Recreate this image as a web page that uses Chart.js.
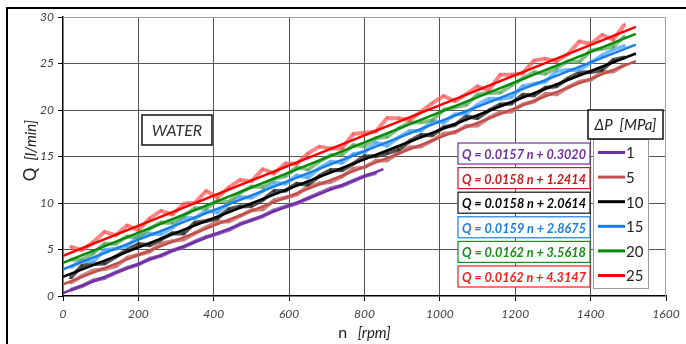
<!DOCTYPE html>
<html>
<head>
<meta charset="utf-8">
<script src="https://cdn.jsdelivr.net/npm/chart.js@4"></script>
<style>
  html, body { margin: 0; padding: 0; background: #fff; overflow: hidden; }
  canvas { display: block; }
</style>
</head>
<body>
<canvas id="flowChart" width="686" height="344"></canvas>
<script>
// pump speed samples [rpm]
const rpm = [20, 50, 80, 110, 140, 170, 200, 230, 260, 290, 320, 350, 380, 410, 440, 470, 500,
  530, 560, 590, 620, 650, 680, 710, 740, 770, 800, 830, 860, 890, 920, 950, 980, 1010, 1040,
  1070, 1100, 1130, 1160, 1190, 1220, 1250, 1280, 1310, 1340, 1370, 1400, 1430, 1460, 1490];

// measured flow [l/min] for each pressure drop
const q1 = [0.66, 1.06, 1.67, 1.93, 2.51, 3.03, 3.39, 4.00, 4.31, 4.89, 5.27, 5.85, 6.36, 6.71,
  7.10, 7.75, 8.16, 8.57, 9.21, 9.60, 9.95, 10.50, 11.04, 11.56, 11.85, 12.37, 12.90, 13.21];
const q5 = [1.41, 2.15, 2.73, 2.90, 3.18, 4.11, 4.43, 4.76, 5.65, 5.90, 6.08, 6.74, 7.40, 7.99,
  8.01, 8.61, 9.23, 9.32, 10.30, 10.56, 10.90, 11.75, 12.09, 12.25, 12.84, 13.69, 13.83, 14.53,
  14.58, 15.36, 15.98, 16.08, 16.71, 17.45, 17.57, 18.29, 18.34, 19.15, 19.75, 19.84, 20.61,
  20.91, 21.74, 21.70, 22.43, 23.04, 23.24, 24.06, 24.13, 24.86];
const q10 = [1.95, 3.25, 3.43, 3.50, 4.23, 4.95, 5.58, 5.46, 6.09, 6.76, 6.72, 7.87, 8.07, 8.36,
  9.33, 9.63, 9.68, 10.32, 11.29, 11.32, 12.08, 11.99, 12.89, 13.54, 13.53, 14.21, 15.04, 15.04,
  15.35, 15.74, 16.66, 17.31, 17.29, 18.14, 18.39, 19.33, 19.12, 19.94, 20.59, 20.70, 21.64,
  21.57, 22.39, 22.56, 23.39, 24.01, 24.08, 24.30, 25.37, 25.64];
const q15 = [3.09, 3.80, 3.66, 4.96, 5.09, 5.35, 6.43, 6.70, 6.66, 7.34, 8.42, 8.36, 9.17, 8.98,
  9.96, 10.65, 10.56, 11.28, 12.18, 12.08, 12.95, 12.74, 13.75, 14.45, 14.32, 15.25, 15.47, 16.50,
  16.16, 17.04, 17.74, 17.78, 18.81, 18.64, 19.52, 19.64, 20.55, 21.20, 21.19, 21.36, 22.56,
  22.79, 23.03, 24.18, 24.29, 24.29, 25.08, 25.85, 26.51, 26.90];
const q20 = [3.89, 3.91, 4.58, 5.61, 5.61, 6.41, 6.28, 7.23, 7.91, 7.87, 8.58, 9.45, 9.42, 10.25,
  10.12, 11.10, 11.77, 11.71, 12.61, 12.86, 13.86, 13.59, 14.45, 15.13, 15.22, 16.22, 16.11,
  16.97, 17.12, 18.01, 18.65, 18.69, 18.89, 20.03, 20.30, 20.57, 21.67, 21.83, 21.87, 22.65,
  23.40, 24.06, 23.89, 24.54, 25.25, 25.17, 26.40, 26.58, 26.86, 27.90];
const q25 = [5.30, 4.94, 5.78, 6.90, 6.53, 7.59, 7.09, 8.35, 9.15, 8.75, 9.91, 10.02, 11.30, 10.60,
  11.68, 12.48, 12.34, 13.63, 13.17, 14.25, 14.21, 15.33, 16.06, 15.85, 15.87, 17.41, 17.55,
  17.68, 19.15, 19.11, 18.89, 19.84, 20.74, 21.51, 20.94, 21.71, 22.55, 22.12, 23.80, 23.79,
  23.96, 25.33, 25.50, 25.25, 26.01, 27.38, 27.10, 28.07, 27.57, 29.20];

// linear fits Q = a*n + b and the speed where each fit line stops
const pressures = ['1', '5', '10', '15', '20', '25'];
const slopes = [0.0157, 0.0158, 0.0158, 0.0159, 0.0162, 0.0162];
const intercepts = [0.3020, 1.2414, 2.0614, 2.8675, 3.5618, 4.3147];
const fitEnds = [850, 1520, 1520, 1520, 1520, 1520];

const xTicks = [0, 200, 400, 600, 800, 1000, 1200, 1400, 1600];
const yTicks = [0, 5, 10, 15, 20, 25, 30];

const measured = [q1, q5, q10, q15, q20, q25];
const lineColors = ['#7030a0', '#c0504d', '#000000', '#1a7ee6', '#078a07', '#ff0000'];
const dotColors = ['rgba(128,70,180,0.8)', 'rgba(200,112,106,0.85)', 'rgba(40,40,40,0.8)',
  'rgba(70,165,255,0.75)', 'rgba(80,165,80,0.7)', 'rgba(255,80,80,0.7)'];
const eqColors = ['#7030a0', '#d01818', '#000000', '#1a7ee6', '#1c8a1c', '#ff1a1a'];

const datasets = [];
pressures.forEach((p, i) => {
  datasets.push({
    label: p + ' MPa data',
    data: measured[i].map((q, k) => ({ x: rpm[k], y: q })),
    showLine: true,
    borderColor: dotColors[i],
    borderWidth: 4,
    borderJoinStyle: 'round',
    pointStyle: 'triangle',
    pointRadius: 2.2,
    pointBackgroundColor: dotColors[i],
    pointBorderWidth: 0,
    order: 10 - i
  });
});
pressures.forEach((p, i) => {
  datasets.push({
    label: p + ' MPa fit',
    data: [0, fitEnds[i]].map(n => ({ x: n, y: slopes[i] * n + intercepts[i] })),
    showLine: true,
    borderColor: lineColors[i],
    borderWidth: 2.5,
    pointRadius: 0,
    order: 0
  });
});

const FONT = 'Lato, "Open Sans", sans-serif';

const decor = {
  id: 'decor',
  beforeDraw(chart) {
    const c = chart.ctx;
    c.save();
    c.fillStyle = '#fff';
    c.fillRect(0, 0, chart.width, chart.height);
    // outer frame
    c.strokeStyle = '#000';
    c.lineWidth = 2;
    c.beginPath();
    c.moveTo(7, chart.height + 2);
    c.lineTo(7, 8);
    c.lineTo(chart.width + 2, 8);
    c.stroke();
    c.restore();
  },
  beforeDatasetsDraw(chart) {
    const a = chart.chartArea, c = chart.ctx;
    c.save();
    c.strokeStyle = '#a0a0a0';
    c.lineWidth = 1;
    c.beginPath();
    c.moveTo(a.left, a.top + 0.5);
    c.lineTo(a.right - 0.5, a.top + 0.5);
    c.lineTo(a.right - 0.5, a.bottom);
    c.stroke();
    c.restore();
  },
  afterDraw(chart) {
    const c = chart.ctx, a = chart.chartArea;
    c.save();

    // axis titles
    c.fillStyle = '#222';
    c.textBaseline = 'alphabetic';
    c.font = '16px ' + FONT;
    const nW = c.measureText('n').width;
    c.font = 'italic 15px ' + FONT;
    const rW = c.measureText('   [rpm]').width;
    let x0 = (a.left + a.right) / 2 - (nW + rW) / 2;
    c.font = '16px ' + FONT;
    c.fillText('n', x0, 338);
    c.font = 'italic 15px ' + FONT;
    c.fillText('   [rpm]', x0 + nW, 338);

    c.translate(36, (a.top + a.bottom) / 2 - 6);
    c.rotate(-Math.PI / 2);
    c.font = '17px ' + FONT;
    const qW = c.measureText('Q').width;
    c.font = 'italic 15px ' + FONT;
    const uW = c.measureText('  [l/min]').width;
    x0 = -(qW + uW) / 2;
    c.font = '17px ' + FONT;
    c.fillText('Q', x0, 0);
    c.font = 'italic 15px ' + FONT;
    c.fillText('  [l/min]', x0 + qW, 0);
    c.setTransform(1, 0, 0, 1, 0, 0);

    // fluid label
    c.fillStyle = '#fff';
    c.fillRect(142, 115, 70, 30);
    c.strokeStyle = '#111';
    c.lineWidth = 1.5;
    c.strokeRect(142, 115, 70, 30);
    c.fillStyle = '#333';
    c.font = 'italic 16px ' + FONT;
    c.textAlign = 'center';
    c.textBaseline = 'middle';
    c.fillText('WATER', 177, 131);

    // fit equations
    const rowY = i => 153.5 + i * 24.6;
    c.font = 'italic bold 14px ' + FONT;
    pressures.forEach((p, i) => {
      const y = rowY(i);
      c.fillStyle = '#fff';
      c.fillRect(458, y - 10.5, 132, 21);
      c.strokeStyle = eqColors[i] === '#000000' ? '#111' : eqColors[i];
      c.lineWidth = 1.2;
      c.strokeRect(458, y - 10.5, 132, 21);
      c.fillStyle = eqColors[i];
      const txt = 'Q = ' + slopes[i].toFixed(4) + ' n + ' + intercepts[i].toFixed(4);
      c.fillText(txt, 524, y + 1, 124);
    });

    // legend
    c.fillStyle = '#fff';
    c.fillRect(593, 139, 55, 149);
    c.strokeStyle = '#9a9a9a';
    c.lineWidth = 1;
    c.strokeRect(593.5, 139.5, 55, 149);
    c.fillStyle = '#fff';
    c.fillRect(588, 110, 75, 29);
    c.strokeStyle = '#111';
    c.lineWidth = 1.5;
    c.strokeRect(588, 110, 75, 29);
    c.fillStyle = '#222';
    c.font = 'italic 15px ' + FONT;
    c.fillText('\u0394P  [MPa]', 625.5, 125);
    c.textAlign = 'left';
    c.font = '15px ' + FONT;
    pressures.forEach((p, i) => {
      const y = rowY(i) - 1;
      c.strokeStyle = lineColors[i];
      c.lineWidth = 3;
      c.beginPath();
      c.moveTo(598, y);
      c.lineTo(625, y);
      c.stroke();
      c.fillStyle = '#222';
      c.fillText(p, 626, y + 1);
    });
    c.restore();
  }
};

const tickFont = { family: FONT, size: 12, style: 'italic' };

function gridOpts(edges) {
  return {
    color: ctx => (ctx.tick && edges.includes(ctx.tick.value)) ? 'rgba(0,0,0,0)' : '#555',
    borderDash: [3, 3],
    lineWidth: 1,
    drawTicks: true,
    tickLength: 5,
    tickColor: '#000',
    tickBorderDash: []
  };
}

new Chart(document.getElementById('flowChart'), {
  type: 'scatter',
  data: { datasets },
  plugins: [decor],
  options: {
    responsive: false,
    animation: false,
    layout: { padding: { left: 0, top: 17, right: 20, bottom: 0 } },
    plugins: { legend: { display: false }, tooltip: { enabled: false } },
    scales: {
      x: {
        type: 'linear',
        min: xTicks[0],
        max: xTicks[xTicks.length - 1],
        afterBuildTicks: s => { s.ticks = xTicks.map(v => ({ value: v })); },
        afterFit: s => { s.height = 48; },
        ticks: { font: tickFont, color: '#404040', padding: 6, maxRotation: 0, callback: v => String(v) },
        grid: gridOpts([0, 1600]),
        border: { color: '#000', width: 1.5 }
      },
      y: {
        type: 'linear',
        min: yTicks[0],
        max: yTicks[yTicks.length - 1],
        afterBuildTicks: s => { s.ticks = yTicks.map(v => ({ value: v })); },
        afterFit: s => { s.width = 63; },
        ticks: { font: tickFont, color: '#404040', padding: 4, callback: v => String(v) },
        grid: gridOpts([0, 30]),
        border: { color: '#000', width: 1.5 }
      }
    }
  }
});
</script>
</body>
</html>
